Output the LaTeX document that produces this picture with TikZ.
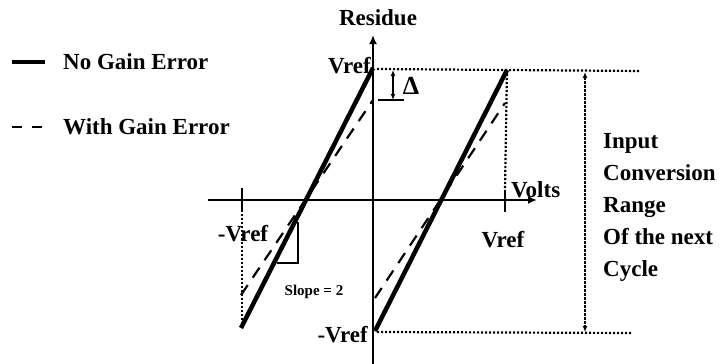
\documentclass[tikz,border=0pt]{standalone}
\usepackage{fontspec}
\setmainfont{Liberation Serif}
\usetikzlibrary{arrows.meta}

\begin{document}
\begin{tikzpicture}[
  x=1pt, y=-1pt,
  every node/.style={font=\bfseries\fontsize{23}{32}\selectfont, inner sep=0pt},
  axis/.style={line width=2.6pt},
  ideal/.style={line width=4.5pt},
  gainerr/.style={line width=2.2pt, dash pattern=on 12pt off 9pt},
  guide/.style={line width=2.2pt, dash pattern=on 2.2pt off 1.8pt},
  tip/.style={-{Latex[length=9pt,width=8pt]}},
  rangetip/.style={{Latex[length=6pt,width=5pt]}-{Latex[length=6pt,width=5pt]}}
]
  \useasboundingbox (0,0) rectangle (724,364);

  \coordinate (ytop) at (373,35);
  \coordinate (ybot) at (373,364);
  \coordinate (xleft) at (208,200);
  \coordinate (xright) at (537,200);
  \coordinate (tickLa) at (242,188);
  \coordinate (tickLb) at (242,210);
  \coordinate (tickRa) at (505,190);
  \coordinate (tickRb) at (505,212);

  \coordinate (lowL) at (241,328);
  \coordinate (topL) at (373,68);
  \coordinate (lowR) at (375,331);
  \coordinate (topR) at (507,70);
  \coordinate (gLowL) at (241,295);
  \coordinate (gTopL) at (373,100);
  \coordinate (gLowR) at (375,298);
  \coordinate (gTopR) at (505,103);

  \coordinate (topEnd) at (640,71);
  \coordinate (botEnd) at (632,333);
  \coordinate (rangeTop) at (585,72);
  \coordinate (rangeBot) at (585,332);
  \coordinate (deltaTop) at (393,70);
  \coordinate (deltaBot) at (393,100);
  \coordinate (deltaBarL) at (378,100);
  \coordinate (deltaBarR) at (404,100);
  \coordinate (slopeA) at (298,222);
  \coordinate (slopeB) at (298,263);
  \coordinate (slopeC) at (277,263);

  \coordinate (legSolA) at (12,62);
  \coordinate (legSolB) at (45,62);
  \coordinate (legDashA) at (12,127);
  \coordinate (legDashB) at (43,127);

  \draw[ideal] (legSolA) -- (legSolB);
  \draw[gainerr, dash pattern=on 10pt off 10pt] (legDashA) -- (legDashB);
  \node[anchor=west] (legSol) at (63,62) {No Gain Error};
  \node[anchor=west] (legDash) at (63,127) {With Gain Error};

  \draw[axis, tip] (ybot) -- (ytop);
  \draw[axis, tip] (xleft) -- (xright);
  \draw[axis] (tickLa) -- (tickLb);
  \draw[axis] (tickRa) -- (tickRb);

  \draw[guide] (tickLb) -- (242,328);
  \draw[guide] (topR) -- (tickRa);
  \draw[guide] (377,69) -- (topEnd);
  \draw[guide] (377,332) -- (botEnd);
  \draw[guide, rangetip] (rangeTop) -- (rangeBot);

  \draw[ideal] (lowL) -- (topL);
  \draw[ideal] (lowR) -- (topR);
  \draw[gainerr] (gLowL) -- (gTopL);
  \draw[gainerr] (gLowR) -- (gTopR);

  \draw[line width=1.8pt, rangetip] (deltaTop) -- (deltaBot);
  \draw[line width=2pt] (deltaBarL) -- (deltaBarR);
  \draw[line width=2.6pt] (slopeA) -- (slopeB) -- (slopeC);

  \node (residue) at (378,18) {Residue};
  \node[anchor=east] (vrefTop) at (371,66) {Vref};
  \node[font=\bfseries\fontsize{26}{30}\selectfont] (delta) at (411,86) {Δ};
  \node[anchor=west] (volts) at (511,190) {Volts};
  \node (vrefRight) at (503,240) {Vref};
  \node (vrefLeft) at (243,234) {-Vref};
  \node[anchor=east] (vrefBot) at (368,335) {-Vref};
  \node[font=\bfseries\fontsize{15}{18}\selectfont] (slope) at (314,292) {Slope = 2};
  \node[anchor=west, align=left] (range) at (603,207) {Input\\Conversion\\Range\\Of the next\\Cycle};
\end{tikzpicture}
\end{document}
